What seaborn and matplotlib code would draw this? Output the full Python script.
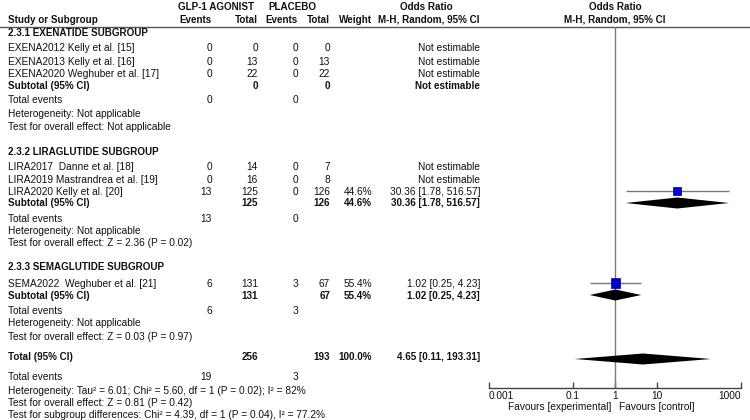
import matplotlib
matplotlib.use("Agg")
import matplotlib.pyplot as plt
import seaborn as sns
import numpy as np
import pandas as pd

# ---------------- data ----------------
groups = ["2.3.1 EXENATIDE SUBGROUP", "2.3.2 LIRAGLUTIDE SUBGROUP", "2.3.3 SEMAGLUTIDE SUBGROUP"]
studies = [
    ["EXENA2012 Kelly et al. [15]", "EXENA2013 Kelly et al. [16]", "EXENA2020 Weghuber et al. [17]"],
    ["LIRA2017  Danne et al. [18]", "LIRA2019 Mastrandrea et al. [19]", "LIRA2020 Kelly et al. [20]"],
    ["SEMA2022  Weghuber et al. [21]"],
]
exp_events = [[0, 0, 0], [0, 0, 13], [6]]
exp_total = [[0, 13, 22], [14, 16, 125], [131]]
ctl_events = [[0, 0, 0], [0, 0, 0], [3]]
ctl_total = [[0, 13, 22], [7, 8, 126], [67]]
weights = [[None, None, None], [None, None, 44.6], [55.4]]
or_est = [[None, None, None], [None, None, 30.36], [1.02]]
or_lo = [[None, None, None], [None, None, 1.78], [0.25]]
or_hi = [[None, None, None], [None, None, 516.57], [4.23]]

sub_exp_total = [0, 125, 131]
sub_ctl_total = [0, 126, 67]
sub_weight = [None, 44.6, 55.4]
sub_est = [None, 30.36, 1.02]
sub_lo = [None, 1.78, 0.25]
sub_hi = [None, 516.57, 4.23]
sub_exp_events = [0, 13, 6]
sub_ctl_events = [0, 0, 3]
sub_het = ["Heterogeneity: Not applicable"] * 3
sub_test = ["Test for overall effect: Not applicable",
            "Test for overall effect: Z = 2.36 (P = 0.02)",
            "Test for overall effect: Z = 0.03 (P = 0.97)"]

tot_exp_total, tot_ctl_total = 256, 193
tot_exp_events, tot_ctl_events = 19, 3
tot_est, tot_lo, tot_hi = 4.65, 0.11, 193.31
tot_het = "Heterogeneity: Tau\u00b2 = 6.01; Chi\u00b2 = 5.60, df = 1 (P = 0.02); I\u00b2 = 82%"
tot_test = "Test for overall effect: Z = 0.81 (P = 0.42)"
tot_sub = "Test for subgroup differences: Chi\u00b2 = 4.39, df = 1 (P = 0.04), I\u00b2 = 77.2%"

tick_vals = [0.001, 0.1, 1, 10, 1000]
tick_labels = ["0.001", "0.1", "1", "10", "1000"]

# ---------------- layout ----------------
W, H = 750, 420
FS = 7.3
FSB = 7.1
TXT = "#111111"
BLUE = "#0000CC"
GRAY = "#7a7a7a"

# y positions (pixels) for each section
sec_header_y = [33, 152, 267]
study_y = [[48, 62, 74], [167, 180, 192], [284]]
mark_y = [[48, 62, 74], [167, 180, 191], [283]]
subtotal_y = [86, 203, 296]
subdia_y = [86, 203, 295]
tev_y = [100, 219, 311]
het_y = [114, 231, 323]
test_y = [127, 243, 337]
total_y, totdia_y = 357, 359
tot_tev_y, tot_het_y, tot_test_y, tot_sub_y = 377, 391, 403, 415

X_NAME, X_EEV, X_ETOT, X_CEV, X_CTOT, X_W, X_OR = 8, 212, 258, 298, 330, 372, 480

sns.set_theme(style="white")
plt.rcParams['font.family'] = ['Liberation Sans', 'DejaVu Sans']

fig = plt.figure(figsize=(W / 100, H / 100), dpi=100)
ax = fig.add_axes([0, 0, 1, 1])
ax.set_xlim(0, W)
ax.set_ylim(H, 0)
ax.axis("off")


def t(x, y, s, ha="left", bold=False):
    ax.text(x, y, s, ha=ha, va="center", fontsize=FSB if bold else FS, color=TXT,
            fontweight="bold" if bold else "normal")


def fmt_or(e, lo, hi):
    if e is None:
        return "Not estimable"
    return f"{e:.2f} [{lo:.2f}, {hi:.2f}]"


# headers
t(216, 7, "GLP-1 AGONIST", ha="center", bold=True)
t(292, 7, "PLACEBO", ha="center", bold=True)
t(426, 7, "Odds Ratio", ha="center", bold=True)
t(615, 7, "Odds Ratio", ha="center", bold=True)
t(X_NAME, 20, "Study or Subgroup", bold=True)
t(X_EEV, 20, "Events", ha="right", bold=True)
t(X_ETOT, 20, "Total", ha="right", bold=True)
t(X_CEV, 20, "Events", ha="right", bold=True)
t(X_CTOT, 20, "Total", ha="right", bold=True)
t(X_W, 20, "Weight", ha="right", bold=True)
t(X_OR, 20, "M-H, Random, 95% CI", ha="right", bold=True)
t(615, 20, "M-H, Random, 95% CI", ha="center", bold=True)
ax.plot([0, W], [27, 27], color="#555555", lw=1.0)

for g in range(len(groups)):
    t(X_NAME, sec_header_y[g], groups[g], bold=True)
    for i, name in enumerate(studies[g]):
        y = study_y[g][i]
        t(X_NAME, y, name)
        t(X_EEV, y, str(exp_events[g][i]), ha="right")
        t(X_ETOT, y, str(exp_total[g][i]), ha="right")
        t(X_CEV, y, str(ctl_events[g][i]), ha="right")
        t(X_CTOT, y, str(ctl_total[g][i]), ha="right")
        if weights[g][i] is not None:
            t(X_W, y, f"{weights[g][i]:.1f}%", ha="right")
        t(X_OR, y, fmt_or(or_est[g][i], or_lo[g][i], or_hi[g][i]), ha="right")
    y = subtotal_y[g]
    t(X_NAME, y, "Subtotal (95% CI)", bold=True)
    t(X_ETOT, y, str(sub_exp_total[g]), ha="right", bold=True)
    t(X_CTOT, y, str(sub_ctl_total[g]), ha="right", bold=True)
    if sub_weight[g] is not None:
        t(X_W, y, f"{sub_weight[g]:.1f}%", ha="right", bold=True)
    t(X_OR, y, fmt_or(sub_est[g], sub_lo[g], sub_hi[g]), ha="right", bold=True)
    t(X_NAME, tev_y[g], "Total events")
    t(X_EEV, tev_y[g], str(sub_exp_events[g]), ha="right")
    t(X_CEV, tev_y[g], str(sub_ctl_events[g]), ha="right")
    t(X_NAME, het_y[g], sub_het[g])
    t(X_NAME, test_y[g], sub_test[g])

t(X_NAME, total_y, "Total (95% CI)", bold=True)
t(X_ETOT, total_y, str(tot_exp_total), ha="right", bold=True)
t(X_CTOT, total_y, str(tot_ctl_total), ha="right", bold=True)
t(X_W, total_y, "100.0%", ha="right", bold=True)
t(X_OR, total_y, fmt_or(tot_est, tot_lo, tot_hi), ha="right", bold=True)
t(X_NAME, tot_tev_y, "Total events")
t(X_EEV, tot_tev_y, str(tot_exp_events), ha="right")
t(X_CEV, tot_tev_y, str(tot_ctl_events), ha="right")
t(X_NAME, tot_het_y, tot_het)
t(X_NAME, tot_test_y, tot_test)
t(X_NAME, tot_sub_y, tot_sub)

t(611, 407, "Favours [experimental]", ha="right")
t(619, 407, "Favours [control]", ha="left")

# ---------------- forest axes ----------------
AX_L, AX_R, AX_T, AX_B = 489, 741, 27, 388
fax = fig.add_axes([AX_L / W, (H - AX_B) / H, (AX_R - AX_L) / W, (AX_B - AX_T) / H])
fax.set_xscale("log")
fax.set_xlim(tick_vals[0], tick_vals[-1])
fax.set_ylim(AX_B, AX_T)
fax.patch.set_alpha(0)
for s in ["left", "right", "top"]:
    fax.spines[s].set_visible(False)
fax.spines["bottom"].set_color("#444444")
fax.spines["bottom"].set_linewidth(1.0)
fax.set_yticks([])
fax.set_xticks(tick_vals)
fax.set_xticks([], minor=True)
fax.set_xticklabels(tick_labels)
fax.tick_params(axis="x", direction="in", length=4, width=1, color="#444444",
                labelsize=FS, labelcolor=TXT, pad=2, bottom=True)
lbls = fax.get_xticklabels()
lbls[0].set_horizontalalignment("left")
lbls[-1].set_horizontalalignment("right")

fax.axvline(1, color=GRAY, lw=1.0, zorder=1)

# study points
rows = []
for g in range(len(groups)):
    for i in range(len(studies[g])):
        if or_est[g][i] is not None:
            rows.append(dict(est=or_est[g][i], lo=or_lo[g][i], hi=or_hi[g][i],
                             w=weights[g][i], y=mark_y[g][i]))
df = pd.DataFrame(rows)
fax.hlines(df["y"], df["lo"], df["hi"], color=GRAY, lw=1.0, zorder=2)
sns.scatterplot(data=df, x="est", y="y", size="w", sizes=(32, 44), marker="s",
                color=BLUE, edgecolor="#000088", linewidth=0.5, legend=False,
                ax=fax, zorder=3)
fax.set_xlabel("")
fax.set_ylabel("")


def diamond(est, lo, hi, yc, h=5.5):
    fax.fill([lo, est, hi, est], [yc, yc - h, yc, yc + h], color="black",
             lw=0, zorder=4)


for g in range(len(groups)):
    if sub_est[g] is not None:
        diamond(sub_est[g], sub_lo[g], sub_hi[g], subdia_y[g])
diamond(tot_est, tot_lo, tot_hi, totdia_y)

fig.savefig("out.png", dpi=100)
